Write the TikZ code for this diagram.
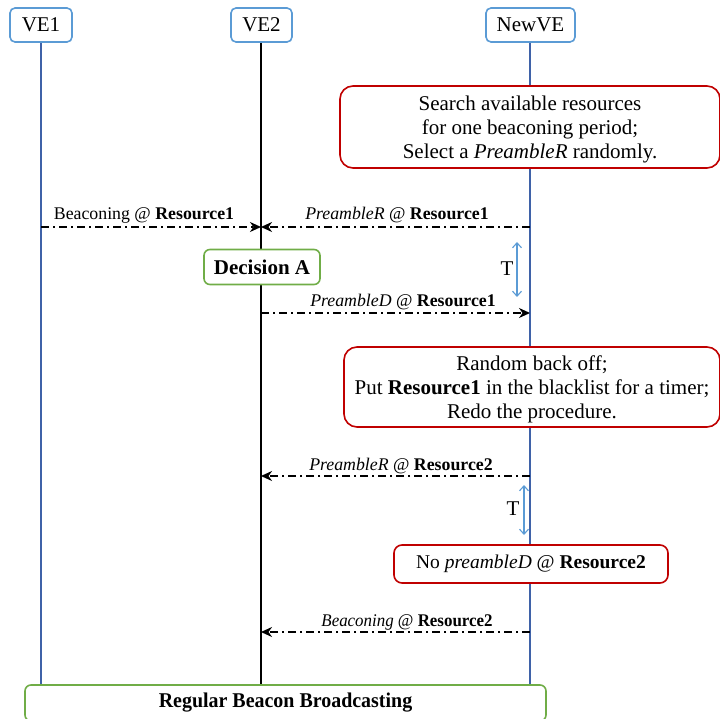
\documentclass[tikz,border=0pt]{standalone}
\usepackage{fontspec}
\setmainfont{Liberation Serif}
\usetikzlibrary{arrows.meta}
\definecolor{hdrblue}{HTML}{5B9BD5}
\definecolor{lifeblue}{HTML}{3F62A8}
\definecolor{boxred}{HTML}{C00000}
\definecolor{boxgreen}{HTML}{70AD47}
\definecolor{tblue}{HTML}{5B9BD5}
\tikzset{
  header/.style={draw=hdrblue, line width=1.6pt, rounded corners=5pt, fill=white,
    inner sep=0pt, minimum height=34pt, font=\fontsize{21}{24}\selectfont},
  lifeline/.style={line width=1.6pt},
  note/.style={draw=boxred, line width=1.6pt, rounded corners=13pt, fill=white,
    align=center, inner sep=0pt, font=\fontsize{21}{24}\selectfont},
  notetext/.style={align=center, inner sep=0pt, font=\fontsize{21}{24}\selectfont},
  decision/.style={draw=boxgreen, line width=1.6pt, rounded corners=6pt, fill=white,
    inner sep=0pt, font=\fontsize{21}{24}\selectfont\bfseries},
  msg/.style={line width=1.8pt, dash pattern=on 8pt off 4pt on 2pt off 4pt,
    -{Stealth[length=11pt,width=10pt,inset=3.5pt]}},
  msglabel/.style={font=\fontsize{17.8}{20}\selectfont, inner sep=0pt, anchor=base},
  period/.style={draw=tblue, line width=1.1pt, {Straight Barb[length=5pt,width=9pt]}-{Straight Barb[length=5pt,width=9pt]}},
}
\begin{document}
\begin{tikzpicture}[x=1pt,y=-1pt]
\useasboundingbox (0,0) rectangle (720,719);

% participants
\node[header, minimum width=62pt] (ve1) at (41,25) {VE1};
\node[header, minimum width=61pt] (ve2) at (261.5,25) {VE2};
\node[header, minimum width=89pt] (newve) at (530.5,25) {NewVE};

% lifeline ends
\coordinate (ve1end) at (41,686);
\coordinate (ve2end) at (261,686);
\coordinate (newend) at (530,686);
\draw[lifeline, lifeblue] (ve1) -- (ve1end);
\draw[lifeline, black] (ve2.south -| ve2end) -- (ve2end);
\draw[lifeline, lifeblue] (newve.south -| newend) -- (newend);

% NewVE actions
\node[note, minimum width=380pt, minimum height=82pt] (search) at (530,127) {};
\node[notetext] (searchtxt) at (530,129)
  {Search available resources\\for one beaconing period;\\Select a \textit{PreambleR} randomly.};

% first exchange
\coordinate (a1) at (41,227);
\coordinate (b1) at (261,227);
\coordinate (c1) at (530,227);
\draw[msg] (a1) -- (b1);
\draw[msg] (c1) -- (b1);
\node[msglabel] (l1) at (144,220) {Beaconing @ \textbf{Resource1}};
\node[msglabel] (l2) at (397,220) {\textit{PreambleR} @ \textbf{Resource1}};

\node[decision, minimum width=116pt, minimum height=35pt] (deca) at (262,267) {Decision A};

\coordinate (t1a) at (517,242);
\coordinate (t1b) at (517,297);
\draw[period] (t1a) -- (t1b);
\node[font=\fontsize{21}{24}\selectfont, inner sep=0pt] (t1) at (507,269) {T};

\coordinate (b2) at (261,313);
\coordinate (c2) at (530,313);
\draw[msg] (b2) -- (c2);
\node[msglabel] (l3) at (403,306) {\textit{PreambleD} @ \textbf{Resource1}};

\node[note, minimum width=376pt, minimum height=80pt] (backoff) at (532,387) {};
\node[notetext] (backofftxt) at (532,389)
  {Random back off;\\Put \textbf{Resource1} in the blacklist for a timer;\\Redo the procedure.};

% second attempt
\coordinate (b3) at (261,476);
\coordinate (c3) at (530,476);
\draw[msg] (c3) -- (b3);
\node[msglabel] (l4) at (401,470) {\textit{PreambleR} @ \textbf{Resource2}};

\coordinate (t2a) at (524,485);
\coordinate (t2b) at (524,535);
\draw[period] (t2a) -- (t2b);
\node[font=\fontsize{21}{24}\selectfont, inner sep=0pt] (t2) at (513,509) {T};

\node[note, minimum width=274pt, minimum height=38pt, rounded corners=8pt,
  font=\fontsize{19.5}{24}\selectfont] (nopre) at (531,564)
  {No \textit{preambleD} @ \textbf{Resource2}};

\coordinate (b4) at (261,632);
\coordinate (c4) at (530,632);
\draw[msg] (c4) -- (b4);
\node[msglabel] (l5) at (407,626) {\scalebox{0.95}[1]{\textit{Beaconing} @ \textbf{Resource2}}};

% final state
\node[decision, minimum width=521pt, minimum height=36pt] (regular) at (285.5,703)
  {\scalebox{0.95}[1]{Regular Beacon Broadcasting}};
\end{tikzpicture}
\end{document}
